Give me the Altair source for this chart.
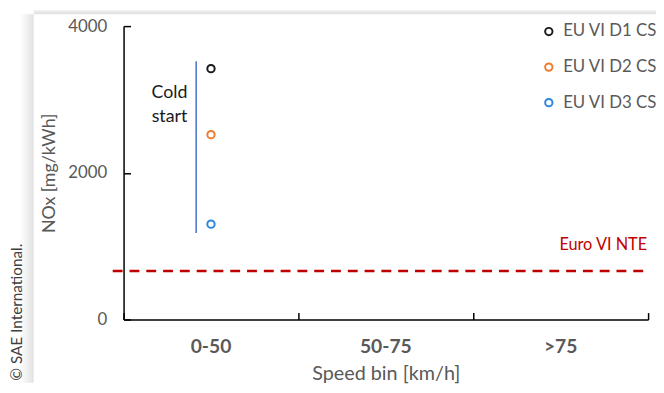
import altair as alt
import pandas as pd

# ---- data ----
categories = ["0-50", "50-75", ">75"]
series = ["EU VI D1 CS", "EU VI D2 CS", "EU VI D3 CS"]
series_bin = ["0-50", "0-50", "0-50"]
nox_values = [3420, 2520, 1300]
series_colors = ["#1a1a1a", "#ED7D31", "#2E86DE"]
cold_start_lo = [1180]
cold_start_hi = [3520]
cold_start_bin = ["0-50"]
nte_limit = [660]
nte_label = ["Euro VI NTE"]
y_ticks = [0, 2000, 4000]

W, H = 531, 297
FONT = "Lato"
GRAY = "#595959"

points_df = pd.DataFrame({"bin": series_bin, "series": series, "nox": nox_values})
cold_df = pd.DataFrame({"bin": cold_start_bin, "lo": cold_start_lo, "hi": cold_start_hi})
nte_df = pd.DataFrame({"nox": nte_limit, "label": nte_label})

x_scale = alt.Scale(type="band", domain=categories, paddingInner=0, paddingOuter=0)
y_scale = alt.Scale(domain=[0, 4000], nice=False, zero=True)

# faint page-shadow edges of the original figure (decoration only)
left_shadow = alt.Chart(nte_df).mark_rect(
    color=alt.LinearGradient(
        gradient="linear", x1=0, x2=1, y1=0, y2=0,
        stops=[alt.GradientStop(color="#ffffff", offset=0),
               alt.GradientStop(color="#e2e2e2", offset=1)])
).encode(x=alt.value(-105), x2=alt.value(-91), y=alt.value(-12), y2=alt.value(H + 64))

top_shadow = alt.Chart(nte_df).mark_rect(
    color=alt.LinearGradient(
        gradient="linear", x1=0, x2=0, y1=0, y2=1,
        stops=[alt.GradientStop(color="#eeeeee", offset=0),
               alt.GradientStop(color="#e0e0e0", offset=1)])
).encode(x=alt.value(-91), x2=alt.value(W + 8), y=alt.value(-16), y2=alt.value(-12))

points = alt.Chart(points_df).mark_point(
    filled=False, shape="circle", size=55, strokeWidth=2, opacity=1
).encode(
    x=alt.X("bin:N", scale=x_scale, axis=alt.Axis(
        title="Speed bin [km/h]", ticks=False, tickSize=0, labelAngle=0,
        labelPadding=18, labelFontSize=19.5, labelFontWeight="bold", labelColor=GRAY,
        labelFont=FONT, titleFont=FONT, titleFontSize=20, titleFontWeight="normal",
        titleColor=GRAY, titleY=55, titleBaseline="middle",
        domainColor="#000000", domainWidth=1.5, grid=False)),
    y=alt.Y("nox:Q", scale=y_scale, axis=alt.Axis(
        title="NOx [mg/kWh]", values=y_ticks, format="d", ticks=False, tickSize=0,
        labelPadding=17, labelFontSize=17, labelColor=GRAY, labelFont=FONT,
        titleFont=FONT, titleFontSize=18, titleFontWeight="normal", titleColor=GRAY,
        titleX=-75, titleY=H / 2, titleAngle=270, titleAlign="center",
        titleBaseline="middle", domainColor="#000000", domainWidth=1.5, grid=False)),
    color=alt.Color("series:N", scale=alt.Scale(domain=series, range=series_colors),
                    legend=alt.Legend(
                        title=None, orient="none", legendX=422, legendY=-3,
                        symbolType="circle", symbolSize=55, symbolStrokeWidth=2,
                        symbolFillColor="transparent",
                        labelFontSize=17, labelColor=GRAY, labelFont=FONT,
                        labelOffset=6, rowPadding=18, padding=0)),
)

cold_rule = alt.Chart(cold_df).mark_rule(
    xOffset=-15, color="#4472C4", strokeWidth=1.5
).encode(
    x=alt.X("bin:N", scale=x_scale, axis=alt.Axis(
        orient="top", offset=-H, labels=False, domain=False, ticks=True,
        tickSize=7, tickWidth=1.5, tickColor="#000000", tickBand="extent",
        title=None, grid=False)),
    y=alt.Y("lo:Q", scale=y_scale, axis=alt.Axis(
        orient="right", offset=-W, labels=False, domain=False, ticks=True,
        values=y_ticks, tickSize=7, tickWidth=1.5, tickColor="#000000",
        title=None, grid=False)),
    y2="hi:Q",
)

cold_text = alt.Chart(cold_df).mark_text(
    text=["Cold", "start"], align="center", baseline="middle", xOffset=-42,
    lineHeight=24, fontSize=18, font=FONT, color="#1a1a1a"
).encode(
    x=alt.X("bin:N", scale=x_scale, axis=None),
    y=alt.Y(datum=3085, scale=y_scale, axis=None),
)

nte_rule = alt.Chart(nte_df).mark_rule(
    color="#C00000", strokeWidth=2.5, strokeDash=[10, 7]
).encode(
    y=alt.Y("nox:Q", scale=y_scale, axis=None),
    x=alt.value(-11),
    x2=alt.value(W),
)

nte_text = alt.Chart(nte_df).mark_text(
    align="right", baseline="middle", fontSize=16.5, font=FONT, color="#C00000"
).encode(
    x=alt.value(W - 1),
    y=alt.Y(datum=1020, scale=y_scale, axis=None),
    text="label:N",
)

copyright_text = alt.Chart(nte_df).mark_text(
    angle=270, align="left", baseline="middle", fontSize=15.5, font=FONT,
    color="#404040"
).encode(
    x=alt.value(-108),
    y=alt.value(H + 62),
    text=alt.value("© SAE International."),
)

chart = alt.layer(
    left_shadow, top_shadow, points, cold_rule, cold_text, nte_rule, nte_text,
    copyright_text
).resolve_scale(
    x="shared", y="shared"
).resolve_axis(
    x="independent", y="independent"
).properties(
    width=W, height=H,
    autosize=alt.AutoSizeParams(type="none"),
    padding={"left": 117, "top": 16, "right": 8, "bottom": 64},
    background="white",
).configure_view(stroke=None)

chart.save("out.html", embed_options={"renderer": "svg", "actions": False})
